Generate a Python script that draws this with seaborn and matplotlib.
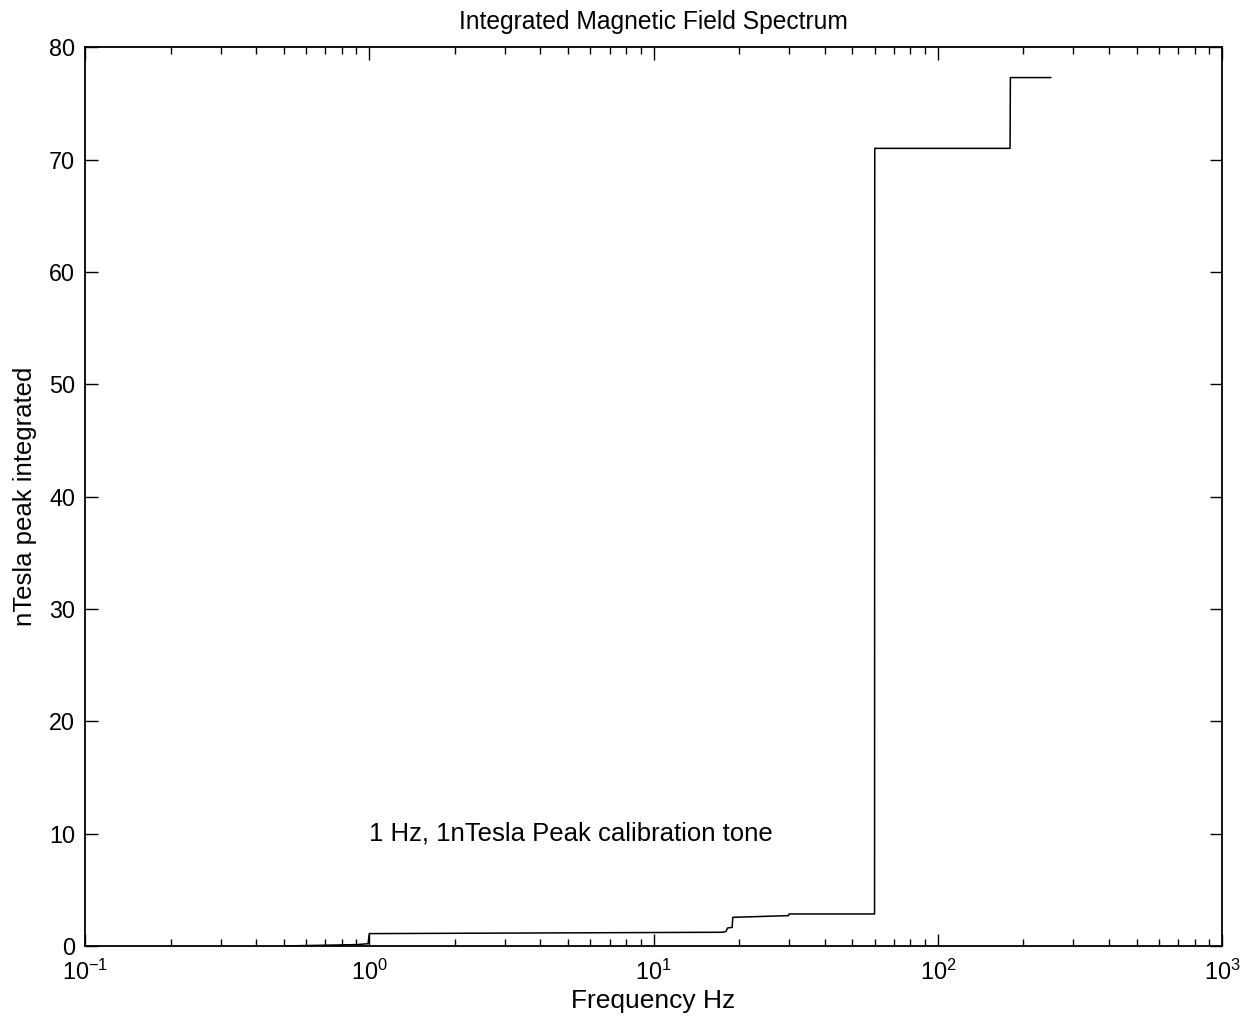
import matplotlib
matplotlib.use("Agg")
import matplotlib.pyplot as plt
import matplotlib.ticker as mticker
import seaborn as sns
import pandas as pd

# Data (frequency in Hz, cumulative nTesla peak)
freq_hz = [0.5, 0.9, 0.99, 1.0, 17.5, 18.0, 18.2, 18.9, 19.0, 29.8, 30.0, 59.9, 60.0, 179.5, 180.0, 250.0]
ntesla = [0.0, 0.12, 0.2, 1.1, 1.22, 1.3, 1.6, 1.65, 2.55, 2.7, 2.85, 2.85, 71.0, 71.0, 77.3, 77.3]
y_ticks = [0, 10, 20, 30, 40, 50, 60, 70, 80]
title = "Integrated Magnetic Field Spectrum"
x_label = "Frequency Hz"
y_label = "nTesla peak integrated"
note = "1 Hz, 1nTesla Peak calibration tone"

sns.set_style("ticks")
plt.rcParams['font.family'] = ['Liberation Sans', 'DejaVu Sans']
plt.rcParams['mathtext.fontset'] = 'custom'
plt.rcParams['mathtext.rm'] = 'Liberation Sans'
plt.rcParams['mathtext.it'] = 'Liberation Sans'
plt.rcParams['mathtext.bf'] = 'Liberation Sans'
plt.rcParams['text.color'] = 'black'
plt.rcParams['axes.labelcolor'] = 'black'

df = pd.DataFrame({"f": freq_hz, "v": ntesla})

fig = plt.figure(figsize=(12.56, 10.27), dpi=100)
ax = fig.add_axes([0.0677, 0.0789, 0.9053, 0.8751])
sns.lineplot(data=df, x="f", y="v", ax=ax, color="black", linewidth=1.1, sort=False, estimator=None)
ax.set_xscale("log")
ax.set_xlim(0.1, 1000)
ax.set_ylim(0, 80)
ax.set_yticks(y_ticks)
ax.xaxis.set_major_locator(mticker.LogLocator(base=10, numticks=10))
ax.xaxis.set_minor_locator(mticker.LogLocator(base=10, subs=range(2, 10), numticks=20))
ax.xaxis.set_minor_formatter(mticker.NullFormatter())

for s in ax.spines.values():
    s.set_visible(True)
    s.set_linewidth(1.3)
    s.set_color("black")
ax.tick_params(which="both", direction="in", top=True, right=True, colors="black", labelsize=16.8)
ax.tick_params(which="major", length=9, width=1.0)
ax.tick_params(which="minor", length=5, width=1.0)
ax.tick_params(axis="x", pad=10)
ax.tick_params(axis="y", pad=7)

ax.set_title(title, fontsize=17.7, pad=13)
ax.set_xlabel(x_label, fontsize=19, labelpad=3)
ax.set_ylabel(y_label, fontsize=18.5, labelpad=9)
ax.text(1.0, 10.05, note, fontsize=18.5, ha="left", va="center")

fig.savefig("out.png", dpi=100)
